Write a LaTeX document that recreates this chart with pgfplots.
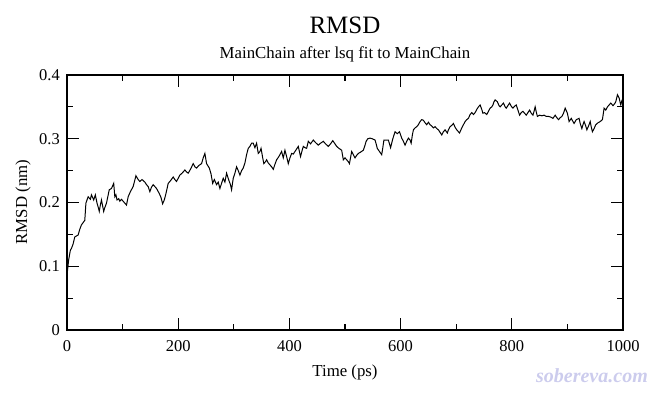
\documentclass[border=0pt]{standalone}
\usepackage{pgfplots}
\pgfplotsset{compat=1.18}
\usepackage{fontspec}
\setmainfont{Liberation Serif}
\definecolor{wm}{rgb}{0.80,0.80,0.93}
\begin{document}
\begin{tikzpicture}[x=1pt,y=1pt]
\useasboundingbox (0,0) rectangle (653,392);
\begin{axis}[
  at={(67pt,62pt)}, anchor=south west,
  scale only axis, width=556pt, height=255pt,
  xmin=0, xmax=1000, ymin=0, ymax=0.4,
  xtick={0,200,400,600,800,1000},
  ytick={0,0.1,0.2,0.3,0.4},
  minor x tick num=1, minor y tick num=1,
  tick align=inside,
  major tick length=12pt, minor tick length=6pt,
  tick style={black, line width=1.2pt},
  axis line style={line width=1.5pt},
  /pgf/number format/assume math mode=true,
  /pgf/number format/fixed,
  /pgf/number format/precision=1,
  /pgf/number format/1000 sep={},
  tick label style={font=\fontsize{16.5}{19}\selectfont, inner sep=0pt},
  yticklabel style={anchor=east, xshift=-7pt},
  xticklabel style={anchor=north, yshift=-10pt},
  scaled y ticks=false,
  clip=true,
]
\addplot[black, line width=1pt, mark=none] coordinates {
(0,0.086)(3,0.110)(6,0.125)(8,0.128)(11,0.135)(14,0.146)(20,0.149)(23,0.158)(26,0.165)(32,0.172)
(34,0.199)(38,0.209)(42,0.205)(44,0.212)(48,0.204)(51,0.212)(54,0.199)(56,0.193)(58,0.186)(60,0.196)
(62,0.204)(64,0.195)(66,0.186)(68,0.192)(71,0.199)(76,0.220)(80,0.222)(84,0.230)(86,0.209)(88,0.212)
(90,0.204)(93,0.206)(95,0.202)(98,0.205)(101,0.202)(104,0.199)(107,0.196)(110,0.209)(114,0.217)(119,0.225)
(124,0.242)(128,0.236)(131,0.233)(135,0.236)(140,0.232)(143,0.228)(146,0.225)(149,0.217)(152,0.224)(155,0.228)
(158,0.225)(161,0.222)(166,0.214)(169,0.208)(172,0.198)(175,0.204)(178,0.214)(182,0.230)(186,0.234)(191,0.240)
(194,0.236)(197,0.233)(200,0.238)(203,0.243)(207,0.246)(212,0.251)(215,0.248)(218,0.246)(222,0.252)(227,0.261)
(230,0.256)(233,0.254)(237,0.258)(242,0.261)(245,0.270)(248,0.277)(251,0.261)(256,0.254)(259,0.245)(262,0.230)
(265,0.236)(269,0.228)(272,0.232)(275,0.222)(278,0.230)(281,0.238)(284,0.232)(287,0.246)(291,0.235)(294,0.228)
(296,0.220)(299,0.238)(302,0.246)(305,0.256)(308,0.250)(311,0.243)(314,0.250)(317,0.254)(320,0.262)(323,0.275)
(326,0.285)(329,0.288)(332,0.293)(335,0.293)(338,0.286)(341,0.293)(344,0.277)(347,0.280)(349,0.285)(352,0.270)
(354,0.261)(357,0.264)(359,0.267)(362,0.262)(365,0.259)(368,0.256)(371,0.252)(374,0.260)(377,0.267)(381,0.272)
(386,0.280)(389,0.270)(392,0.282)(395,0.272)(398,0.261)(401,0.270)(404,0.277)(407,0.276)(410,0.280)(413,0.284)
(416,0.288)(418,0.280)(420,0.272)(423,0.282)(425,0.288)(428,0.286)(431,0.285)(434,0.296)(438,0.292)(443,0.298)
(447,0.294)(452,0.290)(456,0.293)(461,0.296)(465,0.292)(470,0.288)(474,0.292)(478,0.297)(482,0.292)(485,0.288)
(489,0.285)(494,0.282)(497,0.267)(500,0.270)(503,0.267)(506,0.264)(508,0.261)(512,0.280)(515,0.275)(518,0.270)
(521,0.274)(524,0.277)(528,0.279)(533,0.282)(536,0.290)(538,0.296)(541,0.300)(545,0.301)(549,0.300)(554,0.298)
(556,0.292)(558,0.285)(562,0.280)(566,0.275)(568,0.286)(570,0.298)(574,0.298)(578,0.298)(580,0.292)(582,0.286)
(586,0.300)(590,0.311)(594,0.308)(598,0.311)(602,0.301)(605,0.296)(608,0.290)(611,0.296)(614,0.301)(617,0.298)
(619,0.293)(621,0.305)(623,0.314)(626,0.317)(629,0.319)(632,0.322)(635,0.327)(638,0.330)(641,0.329)(644,0.325)
(647,0.322)(650,0.326)(653,0.322)(656,0.320)(659,0.317)(662,0.319)(665,0.316)(668,0.314)(671,0.310)(674,0.306)
(677,0.311)(680,0.314)(684,0.309)(686,0.314)(689,0.319)(692,0.321)(695,0.324)(698,0.318)(701,0.314)(704,0.311)
(706,0.309)(710,0.317)(713,0.322)(716,0.327)(719,0.330)(722,0.332)(725,0.338)(728,0.341)(731,0.338)(734,0.341)
(737,0.346)(740,0.350)(743,0.353)(746,0.346)(748,0.340)(751,0.341)(755,0.338)(758,0.343)(761,0.348)(764,0.350)
(766,0.353)(768,0.358)(770,0.361)(774,0.358)(777,0.352)(779,0.350)(782,0.353)(785,0.356)(788,0.350)(790,0.348)
(793,0.352)(796,0.356)(799,0.351)(802,0.348)(805,0.351)(808,0.353)(811,0.345)(814,0.337)(817,0.341)(820,0.343)
(823,0.340)(826,0.337)(829,0.341)(832,0.345)(835,0.340)(838,0.337)(840,0.343)(842,0.350)(844,0.342)(846,0.335)
(850,0.337)(854,0.336)(858,0.337)(862,0.335)(866,0.335)(870,0.334)(874,0.332)(878,0.337)(881,0.333)(884,0.330)
(887,0.333)(890,0.335)(893,0.340)(896,0.348)(900,0.340)(903,0.327)(907,0.332)(910,0.327)(912,0.324)(916,0.330)
(921,0.332)(923,0.324)(926,0.316)(928,0.322)(930,0.327)(933,0.320)(935,0.314)(938,0.320)(941,0.327)(943,0.318)
(945,0.311)(948,0.316)(951,0.322)(955,0.325)(959,0.327)(963,0.330)(966,0.348)(969,0.345)(972,0.350)(975,0.353)
(978,0.356)(982,0.352)(985,0.355)(987,0.358)(990,0.369)(993,0.364)(996,0.353)(998,0.360)(1000,0.358)
};
\end{axis}
\node[anchor=base, inner sep=0pt, font=\fontsize{25}{30}\selectfont] at (345,359) {RMSD};
\node[anchor=base, inner sep=0pt, font=\fontsize{16.8}{20}\selectfont] at (345,334) {MainChain after lsq fit to MainChain};
\node[anchor=base, inner sep=0pt, font=\fontsize{16.8}{20}\selectfont] at (345,16) {Time (ps)};
\node[anchor=center, inner sep=0pt, rotate=90, font=\fontsize{16.8}{20}\selectfont] at (23,190) {RMSD (nm)};
\node[anchor=base east, inner sep=0pt, text=wm, font=\fontsize{20}{24}\selectfont\bfseries\itshape] at (648,10) {sobereva.com};
\end{tikzpicture}
\end{document}
